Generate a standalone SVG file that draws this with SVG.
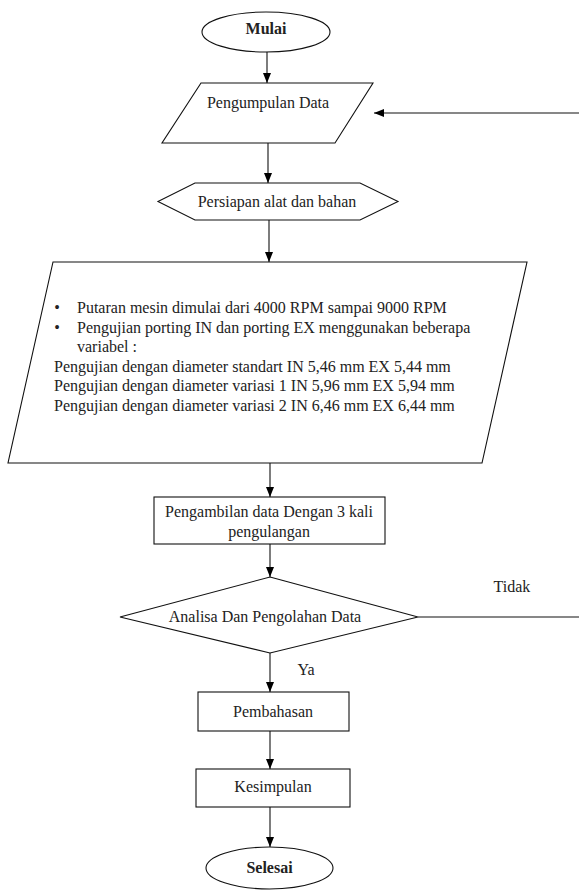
<svg xmlns="http://www.w3.org/2000/svg" width="579" height="890" viewBox="0 0 579 890">
  <defs>
    <marker id="arrow" viewBox="0 0 10 8" refX="10" refY="4" markerWidth="10" markerHeight="8" markerUnits="userSpaceOnUse" orient="auto">
      <path d="M0,0 L10,4 L0,8 Z" fill="#000"/>
    </marker>
  </defs>
  <style>
    .shape { fill: #fff; stroke: #111; stroke-width: 1.1; }
    .link { fill: none; stroke: #111; stroke-width: 1.1; }
    .arr { marker-end: url(#arrow); }
    text { font-size: 16px; fill: #222; }
    .c { text-anchor: middle; }
    .b { font-weight: bold; }
  </style>
  <rect width="579" height="890" fill="#fff"/>

  <g font-family="Liberation Serif, DejaVu Serif, serif">
  <g id="connectors">
    <line class="link arr" x1="267" y1="52" x2="267" y2="83"/>
    <line class="link arr" x1="268" y1="143" x2="268" y2="183"/>
    <line class="link arr" x1="269" y1="220" x2="269" y2="262"/>
    <line class="link arr" x1="270" y1="463" x2="270" y2="497"/>
    <line class="link arr" x1="270" y1="544" x2="270" y2="577"/>
    <line class="link arr" x1="270" y1="653" x2="270" y2="692"/>
    <line class="link arr" x1="270" y1="731" x2="270" y2="769"/>
    <line class="link arr" x1="270" y1="807" x2="270" y2="847"/>
    <line class="link" x1="418" y1="617" x2="579" y2="617"/>
    <line class="link arr" x1="579" y1="113" x2="374" y2="113"/>
    <text x="512" y="592" class="c">Tidak</text>
    <text x="306" y="675" class="c">Ya</text>
  </g>

  <g id="mulai">
    <ellipse class="shape" cx="266" cy="32" rx="64" ry="20"/>
    <text x="266" y="34" class="c b">Mulai</text>
  </g>

  <g id="pengumpulan-data">
    <polygon class="shape" points="201,83 373,83 335,143 162,143"/>
    <text x="268" y="108" class="c">Pengumpulan Data</text>
  </g>

  <g id="persiapan">
    <polygon class="shape" points="158,201.5 195,183 360,183 398,201.5 360,220 195,220"/>
    <text x="277" y="207" class="c">Persiapan alat dan bahan</text>
  </g>

  <g id="variabel">
    <polygon class="shape" points="53,262 527,262 482,463 8,463"/>
    <text x="57" y="313" class="c">•</text>
    <text x="77" y="313">Putaran mesin dimulai dari 4000 RPM sampai 9000 RPM</text>
    <text x="57" y="332.6" class="c">•</text>
    <text x="77" y="332.6">Pengujian porting IN dan porting EX menggunakan beberapa</text>
    <text x="77" y="352.2">variabel :</text>
    <text x="54" y="371.8">Pengujian dengan diameter standart IN 5,46 mm EX 5,44 mm</text>
    <text x="54" y="391.4">Pengujian dengan diameter variasi 1 IN 5,96 mm EX 5,94 mm</text>
    <text x="54" y="411">Pengujian dengan diameter variasi 2 IN 6,46 mm EX 6,44 mm</text>
  </g>

  <g id="pengambilan-data">
    <rect class="shape" x="154" y="497" width="231" height="47"/>
    <text x="269" y="517" class="c">Pengambilan data Dengan 3 kali</text>
    <text x="269" y="537" class="c">pengulangan</text>
  </g>

  <g id="analisa">
    <polygon class="shape" points="270,577 418,617 270,653 120,617"/>
    <text x="265" y="622" class="c">Analisa Dan Pengolahan Data</text>
  </g>

  <g id="pembahasan">
    <rect class="shape" x="198" y="692" width="151" height="39"/>
    <text x="273" y="717" class="c">Pembahasan</text>
  </g>

  <g id="kesimpulan">
    <rect class="shape" x="196" y="769" width="154" height="38"/>
    <text x="273" y="792" class="c">Kesimpulan</text>
  </g>

  <g id="selesai">
    <ellipse class="shape" cx="269.5" cy="868" rx="63.5" ry="21"/>
    <text x="269.5" y="873" class="c b">Selesai</text>
  </g>
  </g>
</svg>
